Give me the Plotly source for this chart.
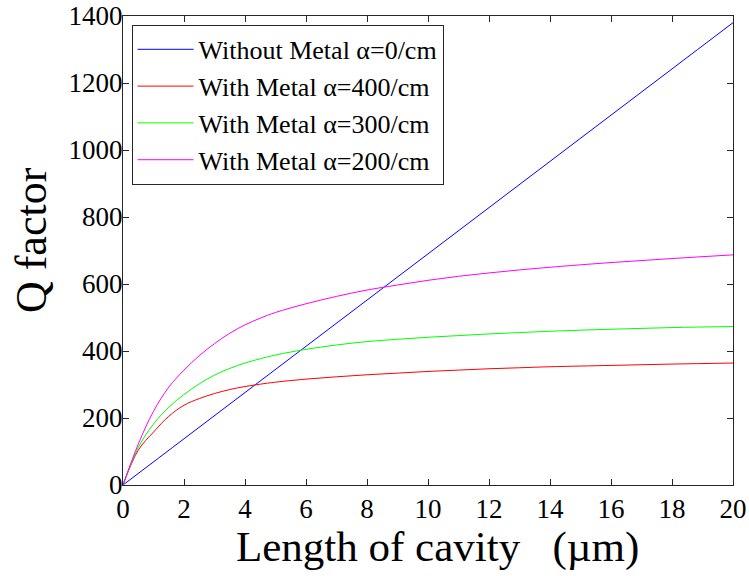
import plotly.graph_objects as go

# Cavity length (µm) and Q factor for each configuration
length_blue = [0, 2, 4, 6, 8, 10, 12, 14, 16, 18, 20]
q_no_metal = [0, 138, 276, 414, 552, 690, 828, 966, 1104, 1242, 1380]

length = [0, 0.5, 1, 1.5, 2, 2.5, 3, 3.5, 4, 4.5, 5, 6, 7, 8, 9, 10, 11, 12, 13, 14, 16, 18, 20]
q_alpha400 = [0, 104, 158, 205, 238, 258, 273, 285, 294, 301, 307, 316, 323, 329, 334, 339, 343, 347, 350, 353, 357, 361, 364]
q_alpha300 = [0, 112, 182, 232, 270, 302, 328, 348, 364, 377, 388, 405, 418, 428, 435, 441, 446, 451, 455, 459, 465, 470, 473]
q_alpha200 = [0, 122, 220, 292, 343, 386, 422, 453, 478, 498, 515, 541, 563, 582, 597, 611, 623, 633, 642, 650, 664, 676, 687]

names = [
    "Without Metal α=0/cm",
    "With Metal α=400/cm",
    "With Metal α=300/cm",
    "With Metal α=200/cm",
]
colors = ["#0000ff", "#ff0000", "#00ff00", "#ff00ff"]

x_ticks = list(range(0, 21, 2))
y_ticks = list(range(0, 1401, 200))
x_ticktext = [str(v) for v in x_ticks]
y_ticktext = [str(v) for v in y_ticks]

x_title = "Length of cavity   (µm)"
y_title = "Q factor"

serif = "Liberation Serif"

fig = go.Figure()
series = [
    (length_blue, q_no_metal),
    (length, q_alpha400),
    (length, q_alpha300),
    (length, q_alpha200),
]
for (xs, ys), name, color in zip(series, names, colors):
    fig.add_trace(go.Scatter(
        x=xs, y=ys, mode="lines", name=name,
        line=dict(color=color, width=1, shape="spline", smoothing=1),
    ))

# Axis titles placed as annotations for precise positioning
fig.add_annotation(
    text=x_title, xref="paper", yref="paper", x=0.515, y=-0.133,
    xanchor="center", yanchor="middle", showarrow=False,
    font=dict(family=serif, size=43, color="black"),
)
fig.add_annotation(
    text=y_title, xref="paper", yref="paper", x=-0.151, y=0.522,
    xanchor="center", yanchor="middle", showarrow=False, textangle=-90,
    font=dict(family=serif, size=44, color="black"),
)

fig.update_layout(
    width=749, height=576,
    margin=dict(l=123, r=16, t=16, b=91),
    paper_bgcolor="white", plot_bgcolor="white",
    font=dict(family=serif, color="black", size=27),
    legend=dict(
        x=0.014, y=0.981, xanchor="left", yanchor="top",
        bgcolor="white", bordercolor="#262626", borderwidth=1,
        font=dict(family=serif, size=26, color="black"),
        tracegroupgap=0, itemwidth=56,
    ),
    showlegend=True,
)

fig.update_xaxes(range=[0, 20], tickmode="array", tickvals=x_ticks, ticktext=x_ticktext)
fig.update_yaxes(range=[0, 1400], tickmode="array", tickvals=y_ticks, ticktext=y_ticktext,
                 ticklabelstandoff=-6)
axis_style = dict(
    showline=True, linecolor="#262626", linewidth=1, mirror="ticks",
    ticks="inside", ticklen=6, tickcolor="#262626", tickwidth=1,
    showgrid=False, zeroline=False, automargin=False,
    tickfont_family=serif, tickfont_size=27, tickfont_color="black",
)
fig.update_xaxes(**axis_style)
fig.update_yaxes(**axis_style)

fig.write_html("out.html")
